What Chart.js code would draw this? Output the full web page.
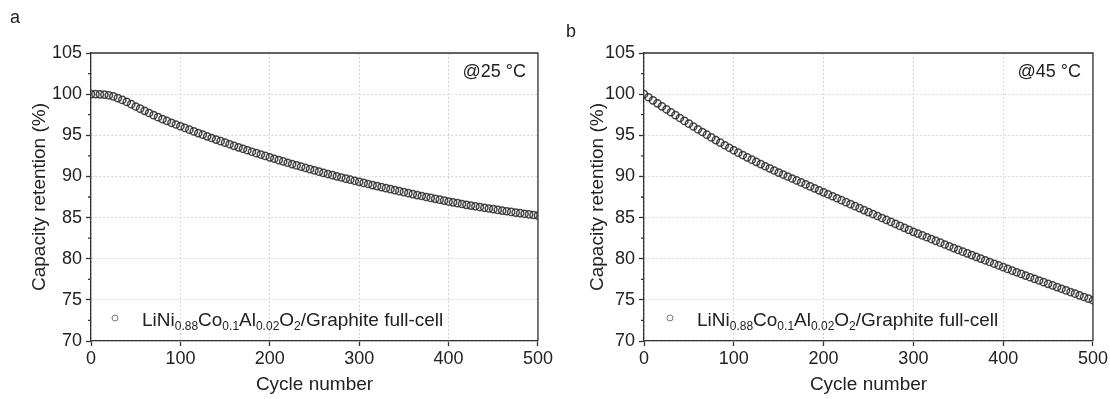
<!DOCTYPE html>
<html>
<head>
<meta charset="utf-8">
<script src="https://cdn.jsdelivr.net/npm/chart.js@4.4.0/dist/chart.umd.min.js"></script>
<style>
  body { margin: 0; background: #fff; }
  .panel { position: absolute; top: 0; width: 555px; height: 399px; }
</style>
</head>
<body>
<div class="panel" style="left:0"><canvas id="chart-a"></canvas></div>
<div class="panel" style="left:555px"><canvas id="chart-b"></canvas></div>
<script>
// cycle numbers (every 5th cycle)
var cycles = [0, 5, 10, 15, 20, 25, 30, 35, 40, 45, 50, 55, 60, 65, 70, 75, 80, 85, 90, 95,
  100, 105, 110, 115, 120, 125, 130, 135, 140, 145, 150, 155, 160, 165, 170, 175, 180, 185, 190, 195,
  200, 205, 210, 215, 220, 225, 230, 235, 240, 245, 250, 255, 260, 265, 270, 275, 280, 285, 290, 295,
  300, 305, 310, 315, 320, 325, 330, 335, 340, 345, 350, 355, 360, 365, 370, 375, 380, 385, 390, 395,
  400, 405, 410, 415, 420, 425, 430, 435, 440, 445, 450, 455, 460, 465, 470, 475, 480, 485, 490, 495, 500];

// capacity retention (%) at 25 °C
var retention25 = [100.00, 100.00, 99.98, 99.95, 99.86, 99.72, 99.52, 99.30, 99.06, 98.78,
  98.50, 98.24, 97.97, 97.71, 97.45, 97.20, 96.96, 96.74, 96.52, 96.31,
  96.10, 95.89, 95.68, 95.47, 95.27, 95.07, 94.87, 94.67, 94.48, 94.29,
  94.10, 93.91, 93.72, 93.54, 93.36, 93.18, 93.00, 92.83, 92.66, 92.49,
  92.32, 92.15, 91.98, 91.82, 91.66, 91.50, 91.34, 91.18, 91.03, 90.88,
  90.73, 90.58, 90.43, 90.29, 90.15, 90.01, 89.87, 89.73, 89.60, 89.47,
  89.34, 89.21, 89.08, 88.95, 88.82, 88.70, 88.57, 88.45, 88.33, 88.21,
  88.09, 87.97, 87.85, 87.73, 87.62, 87.50, 87.39, 87.28, 87.17, 87.06,
  86.95, 86.85, 86.75, 86.65, 86.55, 86.46, 86.37, 86.28, 86.19, 86.10,
  86.02, 85.93, 85.85, 85.77, 85.69, 85.61, 85.53, 85.46, 85.38, 85.31, 85.24];

// capacity retention (%) at 45 °C
var retention45 = [100.00, 99.62, 99.25, 98.88, 98.52, 98.16, 97.80, 97.45, 97.10, 96.75,
  96.41, 96.07, 95.73, 95.40, 95.07, 94.74, 94.42, 94.10, 93.79, 93.48,
  93.18, 92.89, 92.60, 92.32, 92.04, 91.77, 91.50, 91.24, 90.98, 90.72,
  90.47, 90.23, 89.99, 89.75, 89.51, 89.27, 89.03, 88.79, 88.55, 88.31,
  88.07, 87.83, 87.59, 87.35, 87.11, 86.87, 86.63, 86.39, 86.15, 85.91,
  85.67, 85.43, 85.19, 84.95, 84.71, 84.47, 84.23, 83.99, 83.75, 83.51,
  83.27, 83.05, 82.83, 82.61, 82.39, 82.17, 81.95, 81.73, 81.51, 81.29,
  81.07, 80.86, 80.65, 80.44, 80.23, 80.02, 79.81, 79.60, 79.39, 79.18,
  78.97, 78.76, 78.55, 78.35, 78.15, 77.95, 77.75, 77.55, 77.35, 77.15,
  76.95, 76.75, 76.55, 76.35, 76.15, 75.95, 75.75, 75.55, 75.35, 75.15, 74.95];

// axis ticks
var xTicks = [0, 100, 200, 300, 400, 500];
var yTicks = [70, 75, 80, 85, 90, 95, 100, 105];
var yMinorTicks = [72.5, 77.5, 82.5, 87.5, 92.5, 97.5, 102.5];

var FONT = "'Liberation Sans', Arial, sans-serif";
var INK = '#222';
var AXIS = '#333';

// legend text pieces: [text, subscript?]
var legendParts = [['LiNi', false], ['0.88', true], ['Co', false], ['0.1', true],
  ['Al', false], ['0.02', true], ['O', false], ['2', true], ['/Graphite full-cell', false]];

// frame, minor ticks, legend, temperature label, panel letter
var decor = {
  id: 'decor',
  afterDraw: function (chart, args, o) {
    var ctx = chart.ctx, a = chart.chartArea, ys = chart.scales.y;
    ctx.save();
    ctx.strokeStyle = AXIS;
    ctx.lineWidth = 1.3;
    ctx.beginPath();
    ctx.moveTo(a.left, a.top);
    ctx.lineTo(a.right, a.top);
    ctx.lineTo(a.right, a.bottom);
    yMinorTicks.forEach(function (v) {
      var py = ys.getPixelForValue(v);
      ctx.moveTo(a.left - 3, py);
      ctx.lineTo(a.left, py);
    });
    ctx.stroke();

    // legend
    ctx.strokeStyle = '#777';
    ctx.lineWidth = 1;
    ctx.beginPath();
    ctx.arc(a.left + o.legendDx, 318, 3, 0, Math.PI * 2);
    ctx.stroke();
    ctx.fillStyle = INK;
    ctx.textBaseline = 'alphabetic';
    ctx.textAlign = 'left';
    var x = a.left + o.legendDx + 27;
    legendParts.forEach(function (p) {
      ctx.font = (p[1] ? '12px ' : '19px ') + FONT;
      ctx.fillText(p[0], x, p[1] ? 330 : 326);
      x += ctx.measureText(p[0]).width;
    });

    // temperature
    ctx.font = '18px ' + FONT;
    ctx.textAlign = 'right';
    ctx.fillText(o.temp, a.right - 12, 77);

    // panel letter
    ctx.textAlign = 'left';
    ctx.fillText(o.letter, o.letterX, o.letterY);
    ctx.restore();
  }
};

function makeChart(id, values, yWidth, titlePad, opts) {
  var points = cycles.map(function (c, i) { return { x: c, y: values[i] }; });
  return new Chart(document.getElementById(id).getContext('2d'), {
    type: 'scatter',
    data: {
      datasets: [{
        data: points,
        showLine: false,
        pointStyle: 'circle',
        pointRadius: 3.6,
        pointBorderWidth: 1.5,
        borderColor: 'rgba(40,40,40,0.85)',
        backgroundColor: 'rgba(255,255,255,0)'
      }]
    },
    options: {
      responsive: true,
      maintainAspectRatio: false,
      animation: false,
      devicePixelRatio: 1,
      layout: { padding: { top: 53, right: 16, left: 0, bottom: 0 } },
      plugins: {
        legend: { display: false },
        tooltip: { enabled: false },
        decor: opts
      },
      scales: {
        x: {
          type: 'linear', min: 0, max: 500,
          afterBuildTicks: function (s) { s.ticks = xTicks.map(function (v) { return { value: v }; }); },
          afterFit: function (s) { s.height = 58; },
          ticks: { font: { size: 18, family: FONT }, color: INK, padding: 2, maxRotation: 0 },
          grid: { color: '#d6d6d6', lineWidth: 1, tickLength: 5, tickColor: AXIS, tickWidth: 1.3 },
          border: { color: AXIS, width: 1.3, dash: [2, 2] },
          title: { display: true, text: 'Cycle number', font: { size: 19, family: FONT }, color: INK, padding: { bottom: 3 } }
        },
        y: {
          type: 'linear', min: 70, max: 105,
          afterBuildTicks: function (s) { s.ticks = yTicks.map(function (v) { return { value: v }; }); },
          afterFit: function (s) { s.width = yWidth; },
          ticks: { font: { size: 18, family: FONT }, color: INK, padding: 4 },
          grid: { color: '#d6d6d6', lineWidth: 1, tickLength: 5, tickColor: AXIS, tickWidth: 1.3 },
          border: { color: AXIS, width: 1.3, dash: [2, 2] },
          title: { display: true, text: 'Capacity retention (%)', font: { size: 19, family: FONT }, color: INK, padding: { top: titlePad } }
        }
      }
    },
    plugins: [decor]
  });
}

makeChart('chart-a', retention25, 91, 28, { temp: '@25 °C', letter: 'a', letterX: 10, letterY: 23, legendDx: 24 });
makeChart('chart-b', retention45, 89, 31, { temp: '@45 °C', letter: 'b', letterX: 11, letterY: 37, legendDx: 26 });
</script>
</body>
</html>
